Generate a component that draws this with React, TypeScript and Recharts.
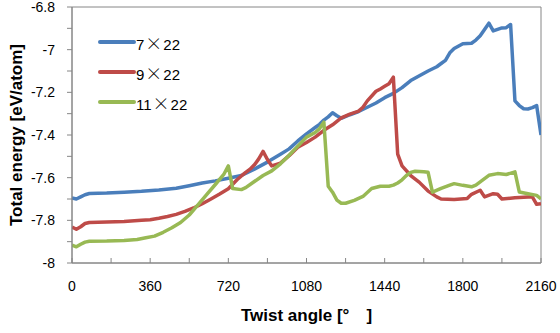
import { LineChart, Line, XAxis, YAxis, Legend, ReferenceArea, Label } from "recharts"

// twist angle [deg] / total energy [eV/atom]
const angles7 = [0, 20, 40, 60, 80, 160, 240, 320, 400, 480, 540, 600, 660, 720, 780, 840, 900, 960, 1000, 1040, 1080, 1120, 1140, 1160, 1180, 1200, 1220, 1240, 1280, 1320, 1360, 1400, 1440, 1480, 1520, 1560, 1600, 1640, 1680, 1700, 1720, 1740, 1760, 1800, 1840, 1860, 1880, 1900, 1920, 1940, 1960, 1980, 2000, 2020, 2040, 2060, 2080, 2100, 2120, 2140, 2160]
const energy7 = [-7.695, -7.7, -7.69, -7.68, -7.674, -7.672, -7.668, -7.664, -7.658, -7.65, -7.638, -7.625, -7.615, -7.603, -7.59, -7.56, -7.527, -7.49, -7.465, -7.428, -7.395, -7.365, -7.35, -7.33, -7.315, -7.296, -7.31, -7.322, -7.305, -7.29, -7.27, -7.25, -7.225, -7.205, -7.178, -7.145, -7.122, -7.1, -7.08, -7.065, -7.05, -7.015, -6.995, -6.972, -6.97, -6.955, -6.935, -6.905, -6.876, -6.912, -6.905, -6.898, -6.897, -6.882, -7.24, -7.262, -7.277, -7.278, -7.272, -7.262, -7.4]

const angles9 = [0, 20, 40, 60, 80, 160, 240, 320, 360, 400, 440, 480, 520, 560, 600, 640, 680, 720, 760, 780, 800, 820, 840, 860, 880, 900, 920, 960, 1000, 1040, 1080, 1120, 1160, 1200, 1240, 1280, 1320, 1340, 1360, 1400, 1420, 1440, 1460, 1480, 1500, 1520, 1560, 1600, 1640, 1680, 1700, 1760, 1820, 1840, 1880, 1900, 1940, 1960, 1980, 2040, 2120, 2140, 2160]
const energy9 = [-7.832, -7.842, -7.83, -7.815, -7.81, -7.808, -7.805, -7.8, -7.797, -7.79, -7.782, -7.772, -7.758, -7.742, -7.722, -7.7, -7.677, -7.652, -7.61, -7.592, -7.575, -7.56, -7.54, -7.512, -7.477, -7.515, -7.545, -7.532, -7.497, -7.457, -7.435, -7.41, -7.378, -7.352, -7.32, -7.302, -7.288, -7.27, -7.24, -7.195, -7.184, -7.172, -7.16, -7.129, -7.49, -7.545, -7.59, -7.622, -7.663, -7.69, -7.7, -7.702, -7.698, -7.678, -7.659, -7.69, -7.675, -7.678, -7.7, -7.694, -7.69, -7.725, -7.722]

const angles11 = [0, 20, 40, 60, 80, 160, 240, 300, 340, 380, 420, 460, 500, 540, 580, 620, 660, 700, 720, 740, 780, 800, 840, 880, 920, 960, 1000, 1040, 1080, 1120, 1140, 1160, 1180, 1200, 1220, 1240, 1260, 1300, 1340, 1380, 1420, 1460, 1480, 1500, 1520, 1540, 1560, 1580, 1620, 1640, 1660, 1700, 1740, 1760, 1800, 1840, 1860, 1880, 1920, 1960, 2000, 2040, 2060, 2100, 2140, 2160]
const energy11 = [-7.916, -7.924, -7.912, -7.902, -7.898, -7.897, -7.894, -7.89, -7.882, -7.874, -7.856, -7.835, -7.81, -7.775, -7.728, -7.68, -7.632, -7.583, -7.545, -7.651, -7.656, -7.647, -7.618, -7.59, -7.568, -7.535, -7.495, -7.452, -7.41, -7.388, -7.37, -7.34, -7.64, -7.668, -7.705, -7.72, -7.72, -7.706, -7.688, -7.651, -7.64, -7.64, -7.635, -7.625, -7.61, -7.59, -7.575, -7.57, -7.572, -7.575, -7.668, -7.65, -7.635, -7.628, -7.636, -7.643, -7.635, -7.62, -7.589, -7.581, -7.585, -7.573, -7.667, -7.675, -7.683, -7.7]

const xTicks = [0, 180, 360, 540, 720, 900, 1080, 1260, 1440, 1620, 1800, 1980, 2160]
const yTicks = [-8, -7.9, -7.8, -7.7, -7.6, -7.5, -7.4, -7.3, -7.2, -7.1, -7, -6.9, -6.8]

const series = [
  { name: "7×22", angles: angles7, energy: energy7, color: "#4a7ebb" },
  { name: "9×22", angles: angles9, energy: energy9, color: "#be4b48" },
  { name: "11×22", angles: angles11, energy: energy11, color: "#98b954" },
]

const font = "'Liberation Sans', Arial, sans-serif"
const axisColor = "#868686"

function XTick({ x, y, payload }: any) {
  const v = payload.value
  return (
    <g>
      <line x1={x} x2={x} y1={y} y2={y - 5} stroke={axisColor} />
      {v % 360 === 0 && (
        <text x={x} y={y + 28} textAnchor="middle" fontSize={14} fontFamily={font} fill="#000">
          {v}
        </text>
      )}
    </g>
  )
}

function YTick({ x, y, payload }: any) {
  const v = payload.value
  const showLabel = Math.round(v * 10) % 2 === 0
  return (
    <g>
      <line x1={x - 5} x2={x} y1={y} y2={y} stroke={axisColor} />
      {showLabel && (
        <text x={x - 17} y={y + 5} textAnchor="end" fontSize={14} fontFamily={font} fill="#000">
          {String(Math.round(v * 10) / 10)}
        </text>
      )}
    </g>
  )
}

// legend drawn from the series list so the order stays 7, 9, 11
function renderLegend() {
  return (
    <div style={{ fontFamily: font, fontSize: 15, color: "#000" }}>
      {series.map((s) => {
        const [a, b] = s.name.split("×")
        return (
          <div key={s.name} style={{ display: "flex", alignItems: "center", height: 30 }}>
            <svg width={38} height={6} style={{ display: "block" }}>
              <line x1={2} x2={36} y1={3} y2={3} stroke={s.color} strokeWidth={4} strokeLinecap="round" />
            </svg>
            <span style={{ whiteSpace: "pre" }}>
              {a}
              <span style={{ fontFamily: "'Noto Sans CJK JP'", fontSize: 17, fontWeight: 300, margin: "0 1px" }}>×</span>
              {b}
            </span>
          </div>
        )
      })}
    </div>
  )
}

export default function App() {
  return (
    <div style={{ position: "absolute", left: 0, top: 0, width: 560, height: 333, background: "#fff" }}>
      <LineChart width={560} height={333} margin={{ top: 7, right: 19, bottom: 0, left: 0 }}>
        <XAxis
          dataKey="angle"
          type="number"
          domain={[0, 2160]}
          ticks={xTicks}
          interval={0}
          allowDataOverflow
          height={70}
          tickSize={0}
          tickMargin={0}
          tickLine={false}
          stroke={axisColor}
          tick={<XTick />}
        >
          <Label
            value="Twist angle [°　]"
            position="center"
            dy={17}
            style={{ fontFamily: font, fontSize: 17, fontWeight: 700, fill: "#000" }}
          />
        </XAxis>
        <YAxis
          type="number"
          domain={[-8, -6.8]}
          ticks={yTicks}
          interval={0}
          allowDataOverflow
          width={72}
          tickSize={0}
          tickMargin={0}
          tickLine={false}
          stroke={axisColor}
          tick={<YTick />}
        >
          <Label
            value="Total energy [eV/atom]"
            position="center"
            angle={-90}
            dx={-20}
            style={{ fontFamily: font, fontSize: 17, fontWeight: 700, fill: "#000" }}
          />
        </YAxis>
        <ReferenceArea x1={0} x2={2160} y1={-8} y2={-6.8} fill="none" stroke={axisColor} />
        {series.map((s) => (
          <Line
            key={s.name}
            name={s.name}
            data={s.angles.map((a, i) => ({ angle: a, value: s.energy[i] }))}
            dataKey="value"
            type="linear"
            stroke={s.color}
            strokeWidth={3.5}
            strokeLinejoin="round"
            dot={false}
            activeDot={false}
            isAnimationActive={false}
          />
        ))}
        <Legend
          layout="vertical"
          align="center"
          verticalAlign="middle"
          content={renderLegend}
          wrapperStyle={{ left: 98, top: 27, width: "auto" }}
        />
      </LineChart>
    </div>
  )
}
